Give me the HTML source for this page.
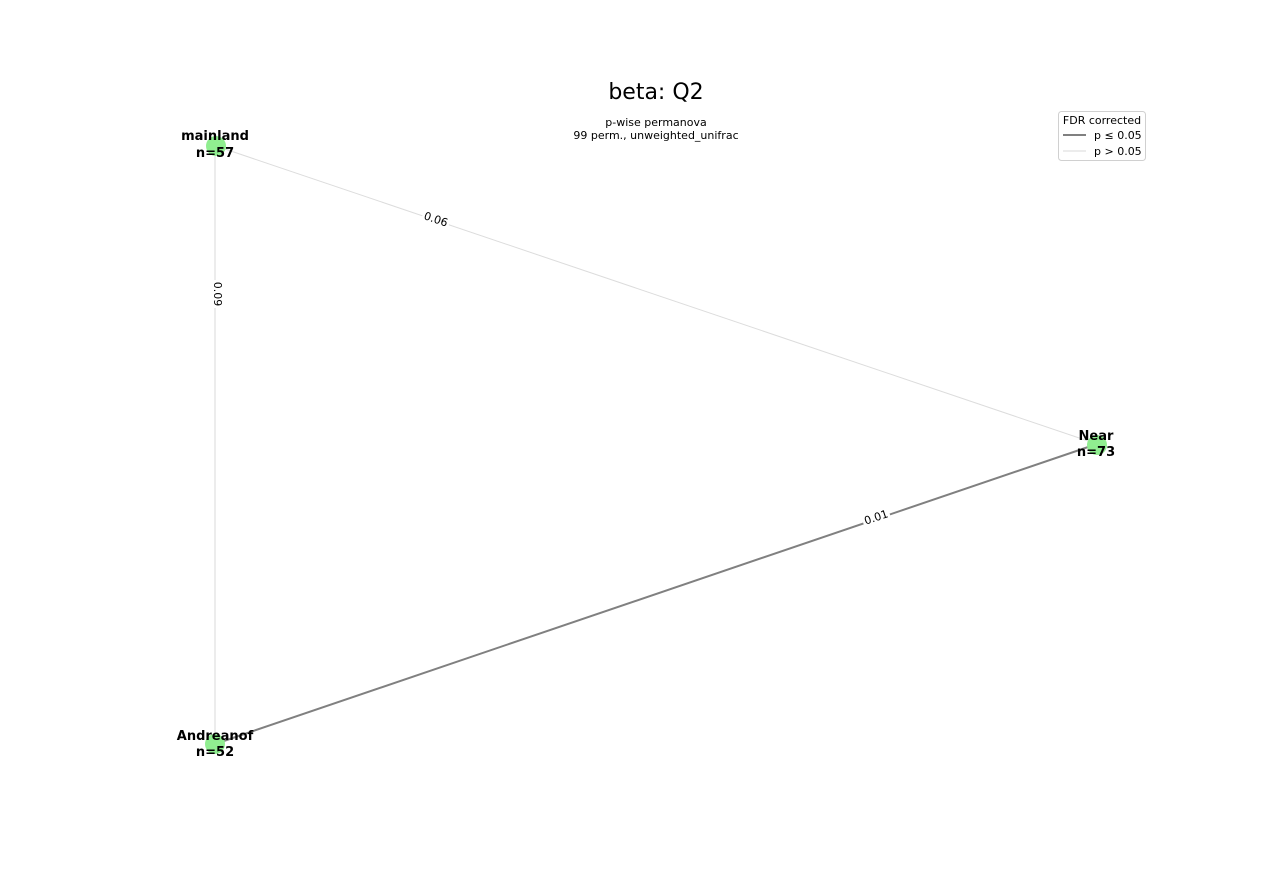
<!DOCTYPE html>
<html><head><meta charset="utf-8"><style>
html,body{margin:0;padding:0;background:#fff;}
svg{display:block;font-family:"DejaVu Sans","Liberation Sans",sans-serif;}
</style></head><body>
<svg width="1280" height="880" viewBox="0 0 1280 880" xmlns="http://www.w3.org/2000/svg">
<rect width="1280" height="880" fill="#fff"/>
<text x="656" y="99" font-size="22" text-anchor="middle" fill="#000">beta: Q2</text>
<text x="656" y="126" font-size="11" text-anchor="middle" fill="#000">p-wise permanova</text>
<text x="656" y="139" font-size="11" text-anchor="middle" fill="#000">99 perm., unweighted_unifrac</text>

<line x1="216" y1="146" x2="1097" y2="444" stroke="#dcdcdc" stroke-width="1"/>
<line x1="215" y1="146" x2="215" y2="744" stroke="#e6e6e6" stroke-width="1.5"/>
<line x1="215" y1="744" x2="1097" y2="444" stroke="#808080" stroke-width="2"/>

<g transform="translate(436,219) rotate(18.7)">
<rect x="-14" y="-7" width="28" height="14" fill="#fff"/>
<text x="0" y="4" font-size="11" text-anchor="middle" fill="#000">0.06</text></g>
<g transform="translate(218,294) rotate(90)">
<rect x="-14" y="-7" width="28" height="14" fill="#fff"/>
<text x="0" y="4" font-size="11" text-anchor="middle" fill="#000">0.09</text></g>
<g transform="translate(876,517) rotate(-18.8)">
<rect x="-14" y="-7" width="28" height="14" fill="#fff"/>
<text x="0" y="4" font-size="11" text-anchor="middle" fill="#000">0.01</text></g>

<circle cx="216" cy="146" r="10" fill="#90ee90"/>
<circle cx="1097" cy="445" r="10" fill="#90ee90"/>
<circle cx="215" cy="744" r="10" fill="#90ee90"/>

<g font-size="13" font-weight="bold" text-anchor="middle" fill="#000">
<text x="215" y="140">mainland</text><text x="215" y="157">n=57</text>
<text x="1096" y="440">Near</text><text x="1096" y="456">n=73</text>
<text x="215" y="740">Andreanof</text><text x="215" y="756">n=52</text>
</g>

<rect x="1058.5" y="111.5" width="87" height="49" rx="3" fill="#fff" stroke="#d0d0d0"/>
<text x="1102" y="124" font-size="11" text-anchor="middle" fill="#000">FDR corrected</text>
<line x1="1063" y1="135" x2="1086" y2="135" stroke="#808080" stroke-width="2"/>
<text x="1094" y="139" font-size="11" fill="#000">p ≤ 0.05</text>
<line x1="1063" y1="151" x2="1086" y2="151" stroke="#e6e6e6" stroke-width="1.5"/>
<text x="1094" y="155" font-size="11" fill="#000">p &gt; 0.05</text>
</svg>
</body></html>
